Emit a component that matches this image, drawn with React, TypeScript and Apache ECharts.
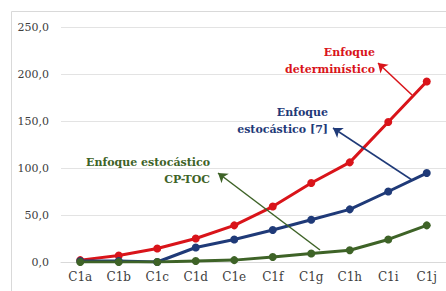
import React, { useEffect, useRef } from "react";
import * as echarts from "echarts";

const categories = ["C1a", "C1b", "C1c", "C1d", "C1e", "C1f", "C1g", "C1h", "C1i", "C1j"];
const deterministic = [2, 7, 14.3, 25, 39, 59, 84, 106, 149, 192];
const stochastic7 = [1, 1, 0, 15.4, 24, 34, 45, 56, 75, 94.6];
const stochasticCPTOC = [0, 0, 0, 1, 2, 5.4, 9, 12.5, 24, 39];
const yTicks = { min: 0, max: 250, interval: 50 };

const RED = "#d9141a";
const BLUE = "#1f3a78";
const GREEN = "#3e6327";
const SERIF = "DejaVu Serif";

function arrow(x1: number, y1: number, x2: number, y2: number, color: string) {
  return [
    { x: x1, y: y1, symbol: "none" },
    { x: x2, y: y2, symbol: "arrow", lineStyle: { color } },
  ];
}

function label(x: number, y: number, text: string, color: string) {
  return {
    type: "text",
    x,
    y,
    style: {
      text,
      fill: color,
      fontFamily: SERIF,
      fontWeight: "bold",
      fontSize: 11,
      align: "right",
      lineHeight: 17,
    },
  };
}

export default function App() {
  const ref = useRef<HTMLDivElement>(null);
  useEffect(() => {
    const chart = echarts.init(ref.current!, null, { renderer: "svg" });
    const mk = (name: string, data: number[], color: string, arrowLine: any) => ({
      name,
      type: "line",
      data,
      symbol: "circle",
      symbolSize: 8,
      lineStyle: { color, width: 3 },
      itemStyle: { color },
      markLine: {
        silent: true,
        symbol: ["none", "arrow"],
        symbolSize: 9,
        lineStyle: { color, width: 1.5, type: "solid" },
        label: { show: false },
        data: [arrowLine],
      },
    });
    chart.setOption({
      animation: false,
      textStyle: { fontFamily: SERIF },
      grid: { left: 61, right: 0, top: 27, bottom: 29 },
      xAxis: {
        type: "category",
        data: categories,
        axisLine: { show: true, lineStyle: { color: "#d9d9d9" } },
        axisTick: { show: false },
        axisLabel: { color: "#404040", fontFamily: SERIF, fontSize: 12, margin: 9 },
      },
      yAxis: {
        type: "value",
        min: yTicks.min,
        max: yTicks.max,
        interval: yTicks.interval,
        axisLine: { show: false },
        axisTick: { show: false },
        splitLine: { lineStyle: { color: "#e3e3e3", width: 1 } },
        axisLabel: {
          color: "#404040",
          fontFamily: SERIF,
          fontSize: 11,
          margin: 12,
          formatter: (v: number) => v.toFixed(1).replace(".", ","),
        },
      },
      series: [
        mk("Enfoque determinístico", deterministic, RED, arrow(412, 95, 378, 63, RED)),
        mk("Enfoque estocástico [7]", stochastic7, BLUE, arrow(412, 180, 333, 128, BLUE)),
        mk("Enfoque estocástico CP-TOC", stochasticCPTOC, GREEN, arrow(320, 250, 218, 173, GREEN)),
      ],
      graphic: [
        {
          type: "rect",
          shape: { x: 11.5, y: 11.5, width: 460, height: 300 },
          style: { fill: "none", stroke: "#d9d9d9", lineWidth: 1 },
          silent: true,
        },
        label(375, 44, "Enfoque\ndeterminístico", RED),
        label(328, 104, "Enfoque\nestocástico [7]", BLUE),
        label(210, 154, "Enfoque estocástico\nCP-TOC", GREEN),
      ],
    });
    return () => chart.dispose();
  }, []);
  return (
    <div
      ref={ref}
      style={{ position: "fixed", left: 0, top: 0, width: 446, height: 291, background: "#fff" }}
    />
  );
}
